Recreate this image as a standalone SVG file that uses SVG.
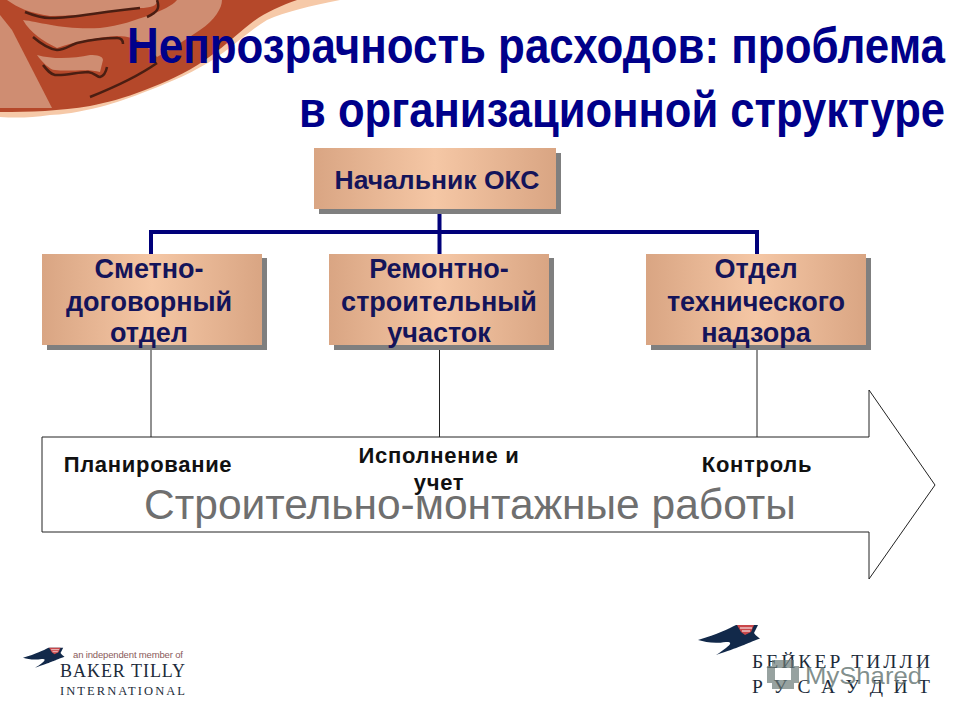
<svg xmlns="http://www.w3.org/2000/svg" width="960" height="720" viewBox="0 0 960 720">
<style>
.t{font-family:"Liberation Sans",Arial,sans-serif;font-weight:700}
.title{font-size:42px;fill:#00008a}
.box{font-size:27px;fill:#14145a;text-anchor:middle}
.lab{font-size:22px;fill:#111;text-anchor:middle;letter-spacing:.7px}
.shadow{fill:#7f7f7f}
.navy{fill:none;stroke:#00007a;stroke-width:4}
.thin{fill:none;stroke:#222;stroke-width:1}
.ink{fill:#12294a}
.lg{font-family:"Liberation Serif","DejaVu Serif",serif;fill:#1c2b3a}
.tan{fill:#cf8d72}
.dk{fill:none;stroke:#4a1e12;stroke-width:2.500}
</style>
<defs>
<linearGradient id="g"><stop offset="0" stop-color="#d9a583"/><stop offset=".5" stop-color="#f5c7a5"/><stop offset="1" stop-color="#d9a583"/></linearGradient>
<g id="bird">
<path class="ink" d="M0 16C20 10 30 5 38 1L60 1L56 9C58 12 60 13 62 14.500C58 16 55 17 53 18C48 20 42 23 18 31C26 26 32 21 32 20C33 18 30 18 28 18C15 20 8 18 0 16Z"/>
<path d="M39 1H56L53 8L47 11L43 8Z" fill="#c9474a"/>
<path d="M42 4H54M44 7H52" stroke="#fff" stroke-width="1" fill="none"/>
</g>
</defs>
<rect width="960" height="720" fill="#fff"/>
<g id="swoosh">
<path d="M0 0H340C310 6 285 12 267 20C250 30 235 45 217 57C195 72 170 82 150 90C130 98 115 103 100 107C80 112 60 115 50 115C30 118 15 118 0 117Z" fill="#f6c9a8"/>
<path d="M0 0H297C280 6 262 14 250 24C235 36 220 50 205 60C185 74 165 82 145 90C125 98 105 103 90 106C60 111 30 112 0 112Z" fill="#b5482a"/>
<path class="tan" d="M0 15L12 30L52 108H0Z"/>
<path class="tan" d="M7 0H157C158 6 150 8 140 8C110 12 85 16 50 16C30 13 18 8 7 0Z"/>
<path class="tan" d="M177 0H222C222 8 215 20 200 30C185 40 170 50 157 57C148 48 140 36 117 36C100 37 77 41 57 48C45 42 30 33 23 20C40 22 63 30 100 28C120 26 135 20 150 15C162 10 172 6 177 0Z"/>
<path class="tan" d="M37 55C42 62 50 70 55 70C70 72 88 68 100 72L103 60C103 56 97 55 90 55C75 58 55 60 37 55Z"/>
<path class="dk" d="M25 12C35 16 42 18 50 18C65 19 100 12 140 8M33 37C40 43 48 49 57 50C65 50 70 45 77 43C90 40 105 38 117 38C121 38 123 40 123 44M43 65C47 70 50 74 55 75C65 76 78 72 88 72C95 73 97 77 100 77C104 76 106 72 107 67M90 97C120 85 140 75 157 63M157 0C160 8 158 12 147 17"/>
</g>
<g id="title" class="t">
<text class="title" transform="translate(127 63) scale(1 1.170)" textLength="818" lengthAdjust="spacingAndGlyphs">Непрозрачность расходов: проблема</text>
<text class="title" transform="translate(299 127) scale(1 1.170)" textLength="646" lengthAdjust="spacingAndGlyphs">в организационной структуре</text>
</g>
<g id="connectors">
<path class="thin" d="M151 345V437M439.500 345V437M757 345V437"/>
<path class="navy" d="M439.500 209V254M151 254V232H757V254"/>
</g>
<g id="arrow">
<path d="M42 437H869V390L935 485L869 579V532H42Z" fill="#fff" stroke="#222" stroke-width="1"/>
<text x="470" y="519" text-anchor="middle" font-family="Liberation Sans,Arial,sans-serif" font-size="42.500" fill="#6f6f6f">Строительно-монтажные работы</text>
</g>
<g id="n-head" class="t">
<rect class="shadow" x="319" y="153" width="242" height="61"/>
<rect x="314" y="148" width="242" height="61" fill="url(#g)"/>
<text class="box" x="437" y="189" style="font-size:26.500px">Начальник ОКС</text>
</g>
<g id="n-smeta" class="t">
<rect class="shadow" x="47" y="258" width="220" height="92"/>
<rect x="42" y="254" width="220" height="91" fill="url(#g)"/>
<text class="box" x="149" y="278">Сметно-</text>
<text class="box" x="149" y="311">договорный</text>
<text class="box" x="149" y="342">отдел</text>
</g>
<g id="n-remont" class="t">
<rect class="shadow" x="334" y="258" width="220" height="92"/>
<rect x="329" y="254" width="220" height="91" fill="url(#g)"/>
<text class="box" x="439" y="278">Ремонтно-</text>
<text class="box" x="439" y="311">строительный</text>
<text class="box" x="439" y="342">участок</text>
</g>
<g id="n-nadzor" class="t">
<rect class="shadow" x="651" y="258" width="220" height="92"/>
<rect x="646" y="254" width="220" height="91" fill="url(#g)"/>
<text class="box" x="756" y="278">Отдел</text>
<text class="box" x="756" y="311">технического</text>
<text class="box" x="756" y="342">надзора</text>
</g>
<g id="labels" class="t">
<text class="lab" x="148" y="472">Планирование</text>
<text class="lab" x="439" y="463">Исполнение и</text>
<text class="lab" x="439" y="490">учет</text>
<text class="lab" x="757" y="472">Контроль</text>
</g>
<g id="logo-left">
<use href="#bird" transform="translate(23 647) scale(.67)"/>
<text x="73" y="658" font-family="Liberation Sans,Arial,sans-serif" font-size="9.500" fill="#8a5a5a" textLength="110">an independent member of</text>
<text class="lg" x="60" y="677" font-size="18" textLength="125">BAKER TILLY</text>
<text class="lg" x="60" y="695" font-size="12.500" textLength="125">INTERNATIONAL</text>
</g>
<g id="logo-right">
<use href="#bird" transform="translate(698 624)"/>
<text class="lg" x="752" y="668" font-size="19.500" textLength="178">БЕЙКЕР ТИЛЛИ</text>
<text class="lg" x="752" y="693" font-size="19.500" textLength="178">Р У С А У Д И Т</text>
<path fill-rule="evenodd" d="M772 660h22v6h5v17h-5v6h-22v-6h-5v-17h5zM775 668v12h16v-12z" fill="#6b7b78" fill-opacity=".7"/>
<text x="805" y="684" font-family="Liberation Sans,Arial,sans-serif" font-size="24" fill="#6b7b78" fill-opacity=".85" textLength="117" lengthAdjust="spacingAndGlyphs">MyShared</text>
</g>
</svg>
